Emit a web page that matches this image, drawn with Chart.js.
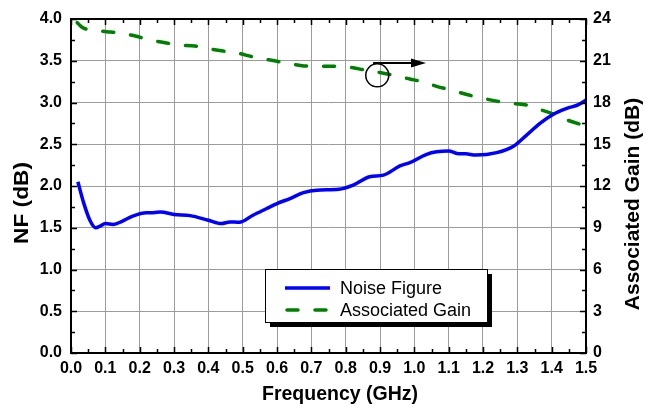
<!DOCTYPE html>
<html>
<head>
<meta charset="utf-8">
<script src="https://cdn.jsdelivr.net/npm/chart.js@4.4.1/dist/chart.umd.min.js"></script>
<style>
  html, body { margin: 0; padding: 0; background: #fff; }
  #wrap { width: 646px; height: 408px; }
</style>
</head>
<body>
<div id="wrap"><canvas id="nfChart" width="646" height="408"></canvas></div>
<script>
// Noise figure (GHz, dB)
const nfFreq = [0.02, 0.036, 0.055, 0.072, 0.085, 0.10, 0.123, 0.15, 0.18, 0.22, 0.24, 0.26, 0.30, 0.347,
  0.40, 0.438, 0.463, 0.49, 0.53, 0.57, 0.60, 0.638, 0.677, 0.716, 0.78, 0.822, 0.87, 0.91, 0.958, 0.987,
  1.036, 1.065, 1.10, 1.124, 1.15, 1.18, 1.24, 1.29, 1.327, 1.366, 1.405, 1.444, 1.478, 1.50];
const nfValues = [2.05, 1.81, 1.59, 1.50, 1.52, 1.55, 1.54, 1.58, 1.64, 1.68, 1.68, 1.69, 1.66, 1.645,
  1.59, 1.55, 1.57, 1.565, 1.65, 1.73, 1.79, 1.85, 1.92, 1.95, 1.96, 2.01, 2.11, 2.13, 2.24, 2.28,
  2.38, 2.41, 2.42, 2.39, 2.385, 2.37, 2.40, 2.48, 2.61, 2.75, 2.86, 2.93, 2.975, 3.03];

// Associated gain (GHz, dB)
const gainFreq = [0.018, 0.031, 0.05, 0.104, 0.138, 0.19, 0.225, 0.274, 0.312, 0.361, 0.40, 0.443, 0.483,
  0.531, 0.60, 0.648, 0.687, 0.74, 0.774, 0.822, 0.85, 0.90, 0.949, 0.987, 1.026, 1.065, 1.114, 1.153,
  1.20, 1.24, 1.29, 1.327, 1.366, 1.405, 1.453, 1.497];
const gainValues = [23.74, 23.43, 23.24, 23.09, 23.0, 22.76, 22.52, 22.3, 22.13, 22.06, 21.87, 21.70, 21.56,
  21.27, 20.96, 20.74, 20.62, 20.6, 20.6, 20.5, 20.36, 20.15, 19.9, 19.69, 19.47, 19.16, 18.85, 18.57,
  18.3, 18.1, 17.92, 17.82, 17.49, 17.17, 16.67, 16.34];

// tick values
const xTickValues = [0, 0.1, 0.2, 0.3, 0.4, 0.5, 0.6, 0.7, 0.8, 0.9, 1.0, 1.1, 1.2, 1.3, 1.4, 1.5];
const nfTickValues = [0, 0.5, 1.0, 1.5, 2.0, 2.5, 3.0, 3.5, 4.0];
const gainTickValues = [0, 3, 6, 9, 12, 15, 18, 21, 24];

// circle + arrow marking the gain curve (x in GHz, y in gain dB)
const markCircle = { x: 0.892, y: 19.95 };
const markArrow = { x1: 0.88, x2: 1.034, y: 20.84 };

const FONT = 'Liberation Sans, Arial, Helvetica, sans-serif';
const ctx = document.getElementById('nfChart').getContext('2d');

const toPoints = (xs, ys) => xs.map((x, i) => ({ x: x, y: ys[i] }));
const setTicks = values => scale => { scale.ticks = values.map(v => ({ value: v })); };

// draws a rotated (bottom-to-top) title, stretched a bit along its length
function sideTitle(c, text, x, y, stretch) {
    c.save();
    c.translate(x, y);
    c.rotate(-Math.PI / 2);
    c.scale(stretch, 1);
    c.fillText(text, 0, 0);
    c.restore();
}

// frame, inward ticks, axis titles, legend and the circle/arrow mark
const decorPlugin = {
    id: 'decor',
    afterDraw(chart) {
        const c = chart.ctx;
        const a = chart.chartArea;
        const sx = chart.scales.x, sy = chart.scales.y, sy2 = chart.scales.y2;
        c.save();

        c.strokeStyle = '#000';
        c.lineWidth = 1.5;
        c.beginPath();
        for (let i = 0; i <= 30; i++) {
            const px = Math.round(sx.getPixelForValue(i * 0.05)) + 0.5;
            const len = i % 2 === 0 ? 6 : 4;
            c.moveTo(px, a.bottom); c.lineTo(px, a.bottom - len);
            c.moveTo(px, a.top); c.lineTo(px, a.top + len);
        }
        for (let i = 0; i <= 16; i++) {
            const py = Math.round(sy.getPixelForValue(i * 0.25)) + 0.5;
            const len = i % 2 === 0 ? 6 : 4;
            c.moveTo(a.left, py); c.lineTo(a.left + len, py);
        }
        for (let i = 0; i <= 16; i++) {
            const py = Math.round(sy2.getPixelForValue(i * 1.5)) + 0.5;
            const len = i % 2 === 0 ? 6 : 4;
            c.moveTo(a.right, py); c.lineTo(a.right - len, py);
        }
        c.stroke();

        c.lineWidth = 2;
        c.strokeRect(a.left, a.top, a.right - a.left, a.bottom - a.top);

        // axis titles
        c.fillStyle = '#000';
        c.font = 'bold 21px ' + FONT;
        c.textAlign = 'center';
        c.textBaseline = 'middle';
        sideTitle(c, 'NF (dB)', 22, 203, 1.08);
        sideTitle(c, 'Associated Gain (dB)', 633, 204, 1.0);
        c.font = 'bold 19.5px ' + FONT;
        c.fillText('Frequency (GHz)', 340, 395);

        // legend box with shadow
        const lx = 265, ly = 269, lw = 222, lh = 53;
        c.fillStyle = '#000';
        c.fillRect(lx + 5, ly + 5, lw, lh);
        c.fillStyle = '#fff';
        c.fillRect(lx, ly, lw, lh);
        c.lineWidth = 1;
        c.strokeStyle = '#000';
        c.strokeRect(lx + 0.5, ly + 0.5, lw, lh);
        c.font = '18px ' + FONT;
        c.textAlign = 'left';
        chart.data.datasets.forEach((ds, i) => {
            const ry = 288 + i * 22;
            c.beginPath();
            c.strokeStyle = ds.borderColor;
            c.lineWidth = ds.borderWidth;
            c.lineCap = ds.borderCapStyle || 'butt';
            c.setLineDash(ds.borderDash || []);
            c.moveTo(i === 1 ? 287 : 285, ry);
            c.lineTo(330, ry);
            c.stroke();
            c.setLineDash([]);
            c.fillStyle = '#000';
            c.fillText(ds.label, 340, ry + 1);
        });

        // circle and arrow pointing to the right axis
        c.strokeStyle = '#000';
        c.fillStyle = '#000';
        c.lineWidth = 1.5;
        c.lineCap = 'butt';
        c.beginPath();
        c.arc(sx.getPixelForValue(markCircle.x), sy2.getPixelForValue(markCircle.y), 11.5, 0, Math.PI * 2);
        c.stroke();
        const ax1 = sx.getPixelForValue(markArrow.x1);
        const ax2 = sx.getPixelForValue(markArrow.x2);
        const ay = sy2.getPixelForValue(markArrow.y);
        c.beginPath();
        c.lineWidth = 2;
        c.moveTo(ax1, ay); c.lineTo(ax2 - 10, ay);
        c.stroke();
        c.beginPath();
        c.moveTo(ax2, ay);
        c.lineTo(ax2 - 15, ay - 4.5);
        c.lineTo(ax2 - 15, ay + 4.5);
        c.closePath();
        c.fill();

        c.restore();
    }
};

const tickFont = { family: FONT, size: 16, weight: 'bold' };

new Chart(ctx, {
    type: 'scatter',
    data: {
        datasets: [{
            label: 'Noise Figure',
            data: toPoints(nfFreq, nfValues),
            yAxisID: 'y',
            showLine: true,
            borderColor: '#0000ff',
            borderWidth: 3.5,
            pointRadius: 0,
            cubicInterpolationMode: 'monotone'
        }, {
            label: 'Associated Gain',
            data: toPoints(gainFreq, gainValues),
            yAxisID: 'y2',
            showLine: true,
            borderColor: '#008000',
            borderWidth: 3.5,
            borderDash: [11, 17],
            borderCapStyle: 'round',
            pointRadius: 0,
            cubicInterpolationMode: 'monotone'
        }]
    },
    options: {
        responsive: false,
        animation: false,
        layout: { padding: { top: 19, left: 0, right: 0, bottom: 0 }, autoPadding: false },
        plugins: { legend: { display: false }, tooltip: { enabled: false } },
        scales: {
            x: {
                type: 'linear',
                min: 0, max: 1.5,
                afterBuildTicks: setTicks(xTickValues),
                afterFit: s => { s.height = 55; },
                grid: { color: '#9c9c9c', lineWidth: 1, drawTicks: false },
                border: { display: false },
                ticks: { font: tickFont, color: '#000', padding: 6, maxRotation: 0, callback: v => v.toFixed(1) }
            },
            y: {
                position: 'left',
                min: 0, max: 4,
                afterBuildTicks: setTicks(nfTickValues),
                afterFit: s => { s.width = 71; },
                grid: { color: '#9c9c9c', lineWidth: 1, drawTicks: false },
                border: { display: false },
                ticks: { font: tickFont, color: '#000', padding: 9, callback: v => v.toFixed(1) }
            },
            y2: {
                position: 'right',
                min: 0, max: 24,
                afterBuildTicks: setTicks(gainTickValues),
                afterFit: s => { s.width = 60; },
                grid: { drawOnChartArea: false, drawTicks: false },
                border: { display: false },
                ticks: { font: tickFont, color: '#000', padding: 7, callback: v => String(v) }
            }
        }
    },
    plugins: [decorPlugin]
});
</script>
</body>
</html>
